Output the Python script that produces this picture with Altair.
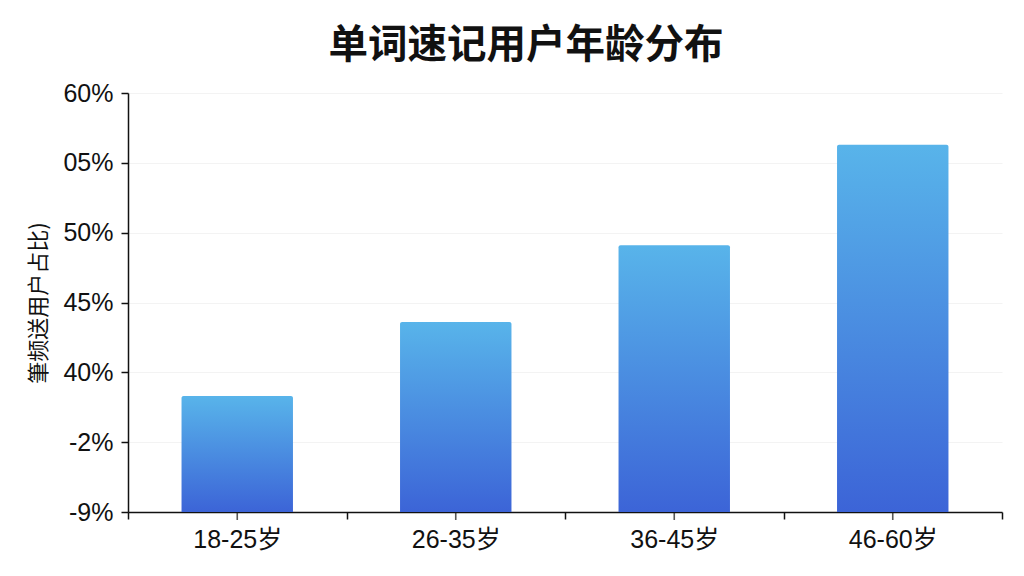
import json
import altair as alt
import pandas as pd

# Data
categories = ["18-25岁", "26-35岁", "36-45岁", "46-60岁"]
shares = [38.3, 43.6, 49.1, 56.3]
tick_values = [30, 35, 40, 45, 50, 55, 60]
tick_labels = ["-9%", "-2%", "40%", "45%", "50%", "05%", "60%"]
y_base = 30

title_text = "单词速记用户年龄分布"
y_title = "筆频送用户占比)"

df = pd.DataFrame({
    "age": categories,
    "share": shares,
    "base": [y_base] * len(categories),
})

label_expr = f"{json.dumps(tick_labels, ensure_ascii=False)}[indexof({json.dumps(tick_values)}, datum.value)]"

LATIN = "Liberation Sans, Noto Sans CJK SC, sans-serif"
CJK = "Noto Sans CJK SC, sans-serif"

y_scale = alt.Scale(domain=[30, 60], nice=False, zero=False)

bars = alt.Chart(df).mark_bar(
    width=alt.RelativeBandSize(0.51),
    cornerRadiusTopLeft=2,
    cornerRadiusTopRight=2,
    color=alt.Gradient(
        gradient="linear",
        stops=[
            alt.GradientStop(color="#58B4EA", offset=0),
            alt.GradientStop(color="#3C64D7", offset=1),
        ],
        x1=0, x2=0, y1=0, y2=1,
    ),
).encode(
    x=alt.X(
        "age:N",
        sort=categories,
        scale=alt.Scale(paddingInner=0, paddingOuter=0),
        axis=alt.Axis(
            title=None,
            labelAngle=0,
            labelFont=LATIN,
            labelFontSize=25,
            labelColor="#111111",
            labelPadding=8,
            tickBand="extent",
            tickSize=7,
            tickColor="#111111",
            tickWidth=1.5,
            domainColor="#111111",
            domainWidth=1.5,
            grid=False,
        ),
    ),
    y=alt.Y(
        "share:Q",
        scale=y_scale,
        axis=alt.Axis(
            title=y_title,
            titleFont=CJK,
            titleFontSize=22,
            titleFontWeight="normal",
            titleColor="#111111",
            titlePadding=12,
            values=tick_values,
            labelExpr=label_expr,
            labelFont=LATIN,
            labelFontSize=25,
            labelColor="#111111",
            labelPadding=8,
            tickSize=7,
            tickColor="#111111",
            tickWidth=1.5,
            domainColor="#111111",
            domainWidth=1.5,
            grid=True,
            gridColor="#f3f3f3",
            gridWidth=1,
        ),
    ),
    y2="base:Q",
)

center_ticks = alt.Chart(df).mark_tick(
    color="#111111", thickness=1.6, size=8, orient="vertical", yOffset=4
).encode(
    x=alt.X("age:N", sort=categories),
    y=alt.Y("base:Q", scale=y_scale),
)

chart = alt.layer(bars, center_ticks).properties(
    width=874,
    height=419,
    padding={"left": 120, "top": 85, "right": 14, "bottom": 56},
    autosize=alt.AutoSizeParams(type="none"),
    background="#ffffff",
    title=alt.TitleParams(
        text=title_text,
        font=CJK,
        fontSize=39.5,
        fontWeight="bold",
        color="#111111",
        anchor="middle",
        dx=-39,
        offset=15,
    ),
).configure_view(stroke=None)

chart.save("out.html", embed_options={"renderer": "svg", "actions": False})
